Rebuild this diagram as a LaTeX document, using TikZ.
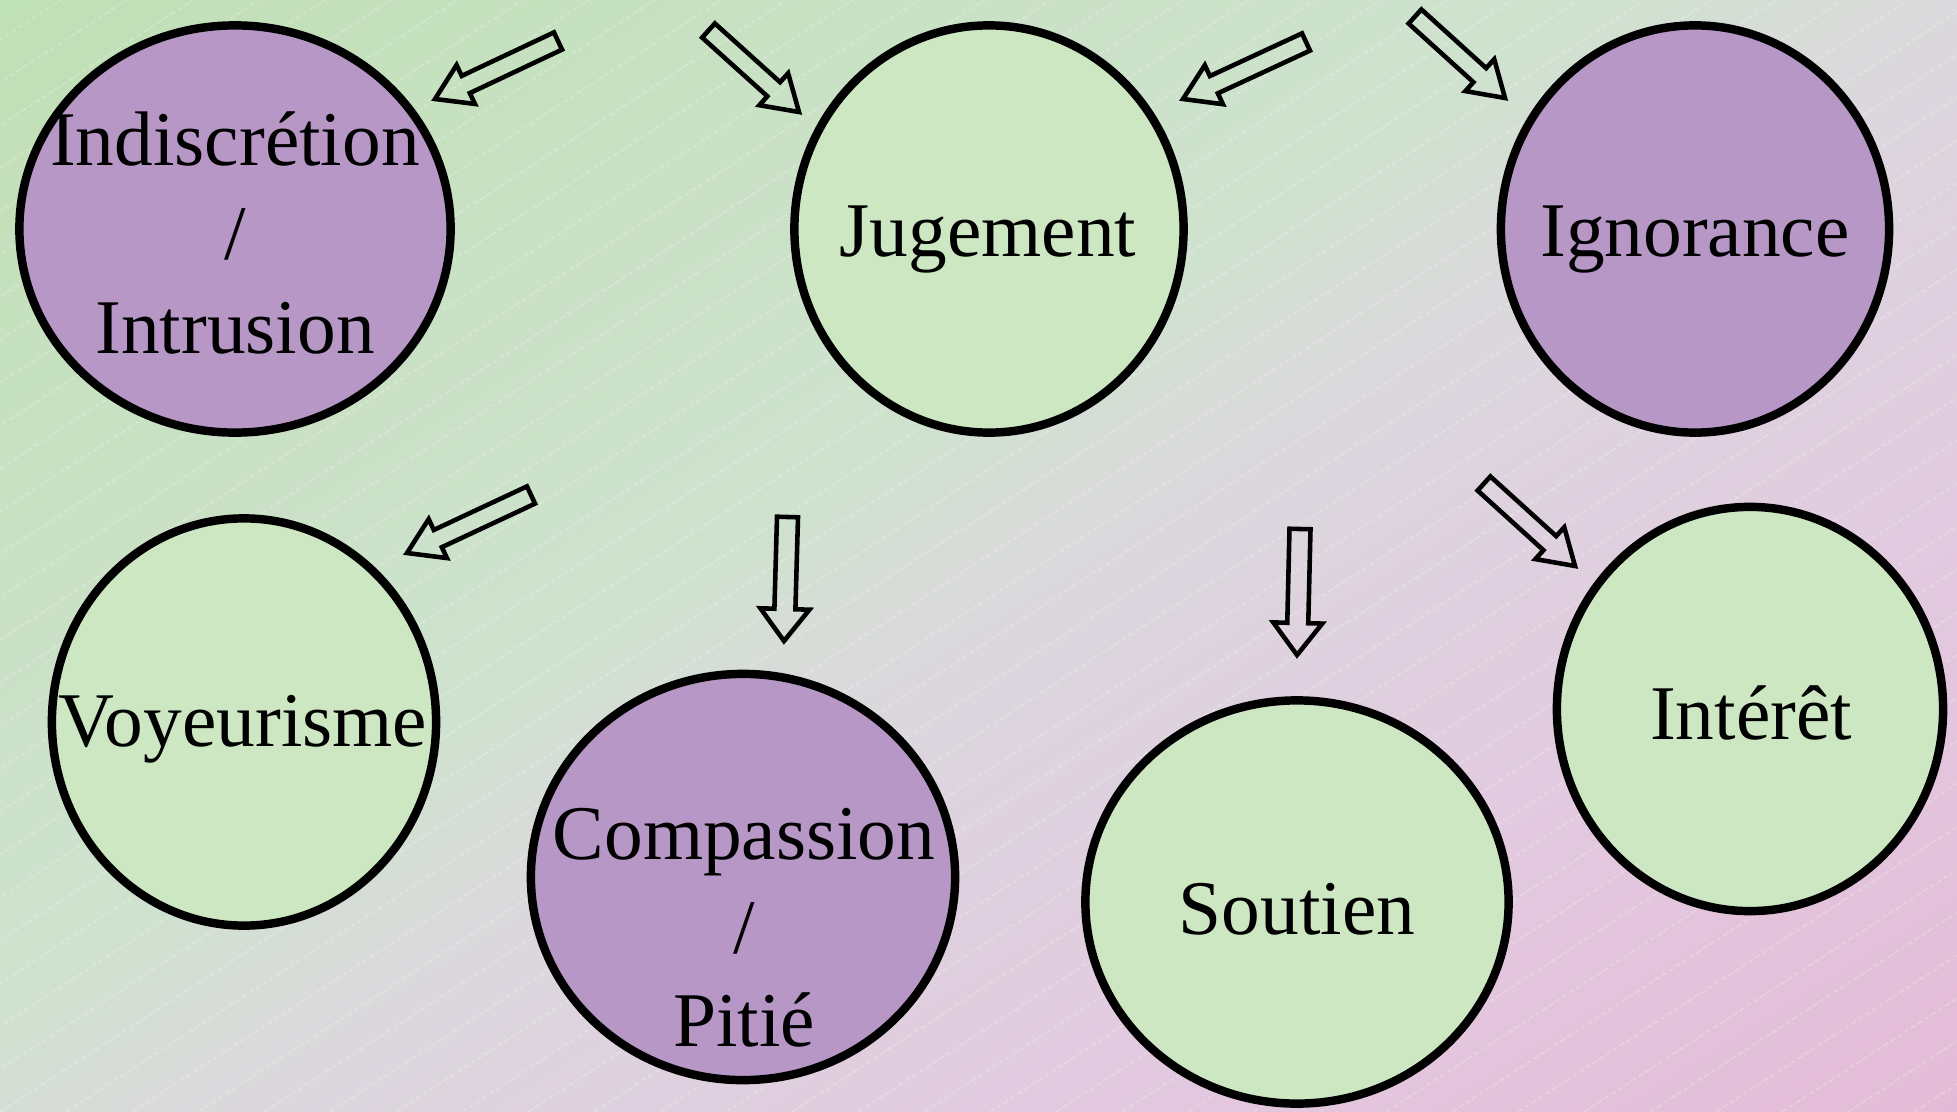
\documentclass[tikz,border=0pt]{standalone}
\usepackage{fontspec}
\setmainfont{Liberation Serif}
\usetikzlibrary{shapes.geometric,calc}
\definecolor{bgGreen}{HTML}{C0E0B5}
\definecolor{bgLightGreen}{HTML}{C8E1C3}
\definecolor{bgMint}{HTML}{CFE2CF}
\definecolor{bgMid}{HTML}{D9DBD9}
\definecolor{bgGrayLilac}{HTML}{DCD6DE}
\definecolor{bgLilac}{HTML}{E2CAE0}
\definecolor{bgPink}{HTML}{E4BBD7}
\definecolor{bubblePurple}{HTML}{B797C6}
\definecolor{bubbleGreen}{HTML}{CDE7C3}
\pgfdeclareverticalshading{bgshade}{100bp}{color(0bp)=(bgPink); color(25bp)=(bgPink);
  color(37.5bp)=(bgLilac); color(47bp)=(bgGrayLilac); color(50bp)=(bgMid);
  color(53.5bp)=(bgMint); color(64bp)=(bgLightGreen); color(75bp)=(bgGreen); color(100bp)=(bgGreen)}
\newcommand\blockarrow[5]{% tail, tip, shaft half-width, head half-width, head length
  \draw[blockline] ($(#1)!#3!90:(#2)$) -- ($(#2)!#5!(#1)!#3!90:(#2)$)
    -- ($(#2)!#5!(#1)!#4!90:(#2)$) -- (#2)
    -- ($(#2)!#5!(#1)!#4!-90:(#2)$) -- ($(#2)!#5!(#1)!#3!-90:(#2)$)
    -- ($(#1)!#3!-90:(#2)$) -- cycle;}
\tikzset{
  bubble/.style={ellipse, draw=black, line width=2.4pt, inner sep=0pt},
  purplebubble/.style={bubble, fill=bubblePurple},
  greenbubble/.style={bubble, fill=bubbleGreen},
  bubbletext/.style={font=\fontsize{22pt}{26.6pt}\selectfont, align=center, inner sep=0pt},
  blockline/.style={draw=black, line width=1.3pt, line join=miter},
  hatch/.style={white, opacity=0.25, line width=0.4pt, dash pattern=on 1.5pt off 0.8pt}
}
\begin{document}
\begin{tikzpicture}[x=0.01cm, y=-0.01cm]
\useasboundingbox (0,0) rectangle (1957,1112);
% background
\begin{scope}
  \clip (0,0) rectangle (1957,1112);
  \begin{scope}[transform canvas={shift={(978.5,556)}, rotate=32}]
    \shade[shading=bgshade] (-1250,-991) rectangle (1250,991);
  \end{scope}
  \foreach \i in {-27,...,30} \draw[hatch] (\i*66,1112) -- ++(1711,-1112);
\end{scope}
% bubbles
\node[purplebubble, minimum width=4.31cm, minimum height=4.07cm] (indis) at (235,229) {};
\node[greenbubble,  minimum width=3.89cm, minimum height=4.07cm] (jug)   at (989,229) {};
\node[purplebubble, minimum width=3.88cm, minimum height=4.07cm] (ign)   at (1695,229) {};
\node[greenbubble,  minimum width=3.84cm, minimum height=4.07cm] (voy)   at (244,722) {};
\node[purplebubble, minimum width=4.24cm, minimum height=4.06cm] (comp)  at (743,877) {};
\node[greenbubble,  minimum width=4.23cm, minimum height=4.03cm] (sout)  at (1297,902) {};
\node[greenbubble,  minimum width=3.86cm, minimum height=4.04cm] (inte)  at (1750,709) {};
% texts
\node[bubbletext] (tindis) at (235,233) {Indiscrétion\\/\\Intrusion};
\node[bubbletext] (tjug)   at (988,240) {Jugement};
\node[bubbletext] (tign)   at (1695,240) {Ignorance};
\node[bubbletext] (tvoy)   at (243,729) {Voyeurisme};
\node[bubbletext] (tcomp)  at (744,928) {Compassion\\/\\Pitié};
\node[bubbletext] (tsout)  at (1297,909) {Soutien};
\node[bubbletext] (tinte)  at (1751,713) {Intérêt};
% block arrows
\coordinate (a1s) at (558,41);    \coordinate (a1e) at (435,99);
\coordinate (a2s) at (708.5,30.5);\coordinate (a2e) at (799,112);
\coordinate (a3s) at (1306,42);   \coordinate (a3e) at (1183,99);
\coordinate (a4s) at (1415,16.5); \coordinate (a4e) at (1505,98);
\coordinate (a5s) at (531,495);   \coordinate (a5e) at (407,553);
\coordinate (a6s) at (787.5,517); \coordinate (a6e) at (784,641);
\coordinate (a7s) at (1300,529);  \coordinate (a7e) at (1297,655);
\coordinate (a8s) at (1484,483.5);\coordinate (a8e) at (1575,566);
\blockarrow{a1s}{a1e}{0.095cm}{0.215cm}{0.34cm}
\blockarrow{a2s}{a2e}{0.095cm}{0.215cm}{0.34cm}
\blockarrow{a3s}{a3e}{0.095cm}{0.215cm}{0.34cm}
\blockarrow{a4s}{a4e}{0.095cm}{0.215cm}{0.34cm}
\blockarrow{a5s}{a5e}{0.095cm}{0.215cm}{0.34cm}
\blockarrow{a6s}{a6e}{0.105cm}{0.245cm}{0.32cm}
\blockarrow{a7s}{a7e}{0.105cm}{0.245cm}{0.32cm}
\blockarrow{a8s}{a8e}{0.095cm}{0.215cm}{0.34cm}
\end{tikzpicture}
\end{document}
